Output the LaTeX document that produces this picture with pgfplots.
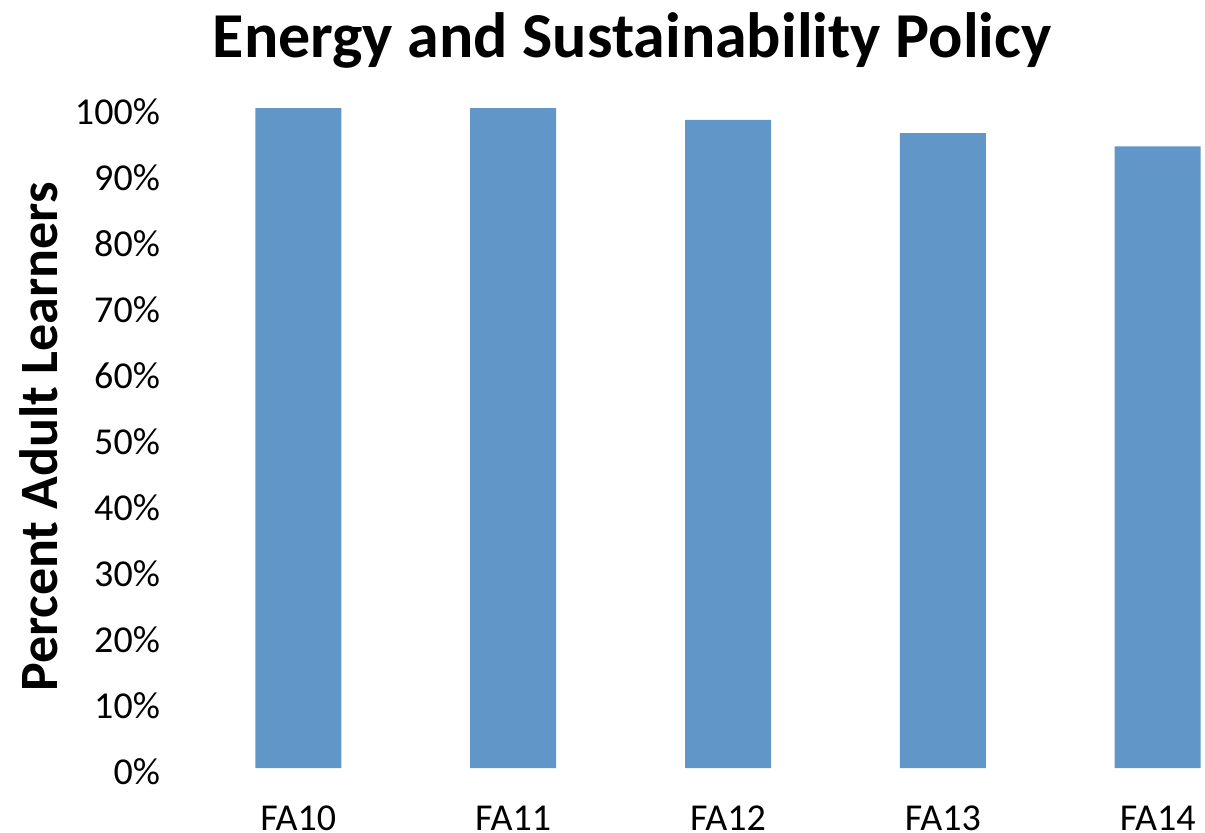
\documentclass[border=0pt]{standalone}
\usepackage{pgfplots}
\pgfplotsset{compat=1.18}
\usepackage{fontspec}
\setmainfont{Carlito}
\definecolor{barblue}{RGB}{97,150,200}
\begin{document}
\begin{tikzpicture}
\path[use as bounding box] (-96.5pt,-32pt) rectangle (506pt,384pt);
\begin{axis}[
  scale only axis,
  width=506pt, height=330pt,
  anchor=south west, at={(0,0)},
  xmin=-0.49, xmax=4.22,
  ymin=0, ymax=100,
  axis line style={draw=none},
  tick style={draw=none},
  xtick={0,1,2,3,4},
  xticklabels={FA10,FA11,FA12,FA13,FA14},
  ytick={0,10,...,100},
  yticklabel={\pgfmathprintnumber{\tick}\%},
  /pgf/number format/assume math mode=true,
  ticklabel style={font=\fontsize{19}{22}\selectfont, text=black},
  yticklabel style={xshift=-13pt, yshift=-2pt},
  xticklabel style={yshift=-11pt},
  clip=false,
  ybar, bar width=43pt,
]
\addplot[fill=barblue, draw=none] coordinates {(0,100) (1,100) (2,98.2) (3,96.2) (4,94.2)};
\end{axis}
\node[font=\bfseries\fontsize{32}{38}\selectfont] at (219.5pt,364pt) {Energy and Sustainability Policy};
\node[font=\bfseries\fontsize{27}{32}\selectfont, rotate=90] at (-77pt,165.5pt) {Percent Adult Learners};
\end{tikzpicture}
\end{document}
